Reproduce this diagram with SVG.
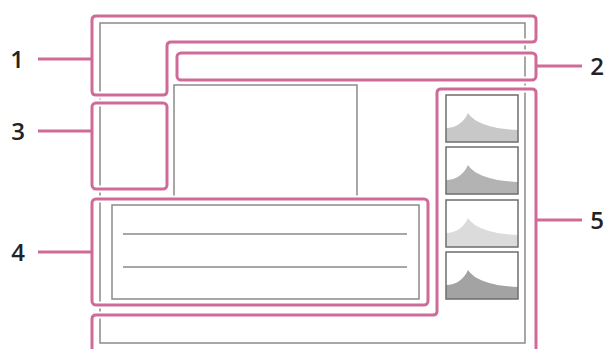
<svg xmlns="http://www.w3.org/2000/svg" width="607" height="349" viewBox="0 0 607 349">
<defs>
<style>
.frame{fill:none;stroke:#8a8a8a;stroke-width:1.5}
.halo{fill:none;stroke:#ffffff;stroke-width:7;stroke-linejoin:round}
.pink{fill:none;stroke:#cf6b98;stroke-width:3;stroke-linejoin:round;stroke-linecap:butt}
.lead{stroke:#cf6b98;stroke-width:3}
.lbl{font-family:"Open Sans","Noto Sans","DejaVu Sans",sans-serif;font-size:24px;font-weight:600;fill:#222;text-anchor:middle}
.hout{fill:none;stroke:#6e6e6e;stroke-width:1.5}
.gline{stroke:#8a8a8a;stroke-width:1.5}
</style>
<path id="hist" d="M446,47 L446,33 C456,33 464,27 468,18 C473,26 488,34 518,35 L518,47 Z"/>
</defs>
<g id="screen">
<rect class="frame" x="100" y="23" width="425" height="320"/>
<path class="frame" d="M174,196 L174,85 L357,85 L357,196"/>
</g>
<g id="histograms">
<g id="h1"><use href="#hist" transform="translate(0,95)" fill="#c8c8c8"/><rect class="hout" x="446" y="95" width="72" height="47"/></g>
<g id="h2"><use href="#hist" transform="translate(0,147)" fill="#b3b3b3"/><rect class="hout" x="446" y="147" width="72" height="47"/></g>
<g id="h3"><use href="#hist" transform="translate(0,200)" fill="#dbdbdb"/><rect class="hout" x="446" y="200" width="72" height="47"/></g>
<g id="h4"><use href="#hist" transform="translate(0,252)" fill="#a3a3a3"/><rect class="hout" x="446" y="252" width="72" height="47"/></g>
</g>
<g id="panel4-content">
<rect class="frame" x="112" y="205" width="307" height="94"/>
<line class="gline" x1="123" y1="234" x2="407" y2="234"/>
<line class="gline" x1="123" y1="267" x2="407" y2="267"/>
</g>
<g id="region1">
<path class="halo" d="M96,16 L532,16 Q536,16 536,20 L536,38 Q536,42 532,42 L171,42 Q167,42 167,46 L167,91 Q167,95 163,95 L96,95 Q92,95 92,91 L92,20 Q92,16 96,16 Z"/>
<path class="pink" d="M96,16 L532,16 Q536,16 536,20 L536,38 Q536,42 532,42 L171,42 Q167,42 167,46 L167,91 Q167,95 163,95 L96,95 Q92,95 92,91 L92,20 Q92,16 96,16 Z"/>
</g>
<g id="region2">
<rect class="halo" x="177" y="53" width="359" height="27" rx="4"/>
<rect class="pink" x="177" y="53" width="359" height="27" rx="4"/>
</g>
<g id="region3">
<rect class="halo" x="92" y="103" width="75" height="86" rx="4"/>
<rect class="pink" x="92" y="103" width="75" height="86" rx="4"/>
</g>
<g id="region4">
<rect class="halo" x="92" y="199" width="336" height="106" rx="4"/>
<rect class="pink" x="92" y="199" width="336" height="106" rx="4"/>
</g>
<g id="region5">
<path class="halo" d="M536,352 L536,93 Q536,89 532,89 L441,89 Q437,89 437,93 L437,311 Q437,315 433,315 L96,315 Q92,315 92,319 L92,352"/>
<path class="pink" d="M536,352 L536,93 Q536,89 532,89 L441,89 Q437,89 437,93 L437,311 Q437,315 433,315 L96,315 Q92,315 92,319 L92,352"/>
</g>
<g id="connectors">
<line class="lead" x1="38" y1="59" x2="92" y2="59"/>
<line class="lead" x1="38" y1="131" x2="92" y2="131"/>
<line class="lead" x1="38" y1="252" x2="92" y2="252"/>
<line class="lead" x1="536" y1="66" x2="582" y2="66"/>
<line class="lead" x1="536" y1="220" x2="582" y2="220"/>
</g>
<g id="labels">
<text class="lbl" x="17" y="67.5">1</text>
<text class="lbl" x="597" y="74.5">2</text>
<text class="lbl" x="18" y="139.5">3</text>
<text class="lbl" x="18" y="260.5">4</text>
<text class="lbl" x="597" y="228.5">5</text>
</g>
</svg>
